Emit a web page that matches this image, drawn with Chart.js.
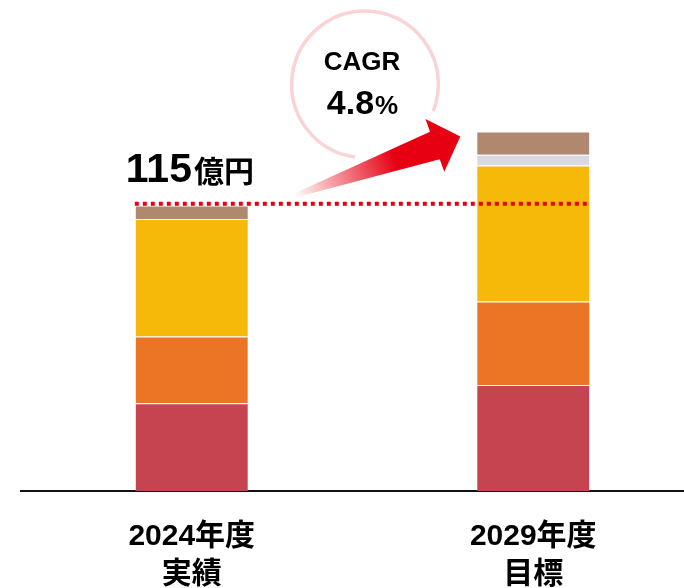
<!DOCTYPE html>
<html>
<head>
<meta charset="utf-8">
<script src="https://cdn.jsdelivr.net/npm/chart.js@4"></script>
<style>
  html, body { margin: 0; padding: 0; background: #fff; overflow: hidden; }
  #wrap { width: 704px; height: 588px; }
</style>
</head>
<body>
<div id="wrap"><canvas id="salesChart" width="704" height="588"></canvas></div>
<script>
// Categories (two-line tick labels)
const categories = [['2024年度', '実績'], ['2029年度', '目標']];

// Stacked segments, bottom to top (億円)
const redSeg = [35.4, 42.7];
const orangeSeg = [26.9, 33.7];
const yellowSeg = [47.4, 54.9];
const greySeg = [0, 4.3];
const brownSeg = [5.4, 9.4];

const segColors = ['#c5444f', '#ec7425', '#f7b909', '#d9d9e3', '#b0876f'];

// Annotation texts
const baseTotal = 115;
const baseNumber = '115';
const baseUnit = '億円';
const cagrTitle = 'CAGR';
const cagrValue = '4.8';
const cagrUnit = '%';

const latin = "'Liberation Sans', 'Noto Sans CJK JP', sans-serif";
const RED = '#e60012';

// Draws the dotted total line, the growth arrow and the CAGR bubble
const annotations = {
    id: 'annotations',
    afterDatasetsDraw(chart) {
        const ctx = chart.ctx;
        const y = chart.scales.y;
        const m = chart.getDatasetMeta(0);
        const b1 = m.data[0], b2 = m.data[1];
        const left1 = b1.x - b1.width / 2;
        const right1 = b1.x + b1.width / 2;
        const left2 = b2.x - b2.width / 2;
        const right2 = b2.x + b2.width / 2;
        const yBase = y.getPixelForValue(baseTotal);

        ctx.save();

        // dotted line at the 2024 total
        ctx.strokeStyle = RED;
        ctx.lineWidth = 4;
        ctx.setLineDash([4, 4]);
        ctx.beginPath();
        ctx.moveTo(left1, yBase - 2);
        ctx.lineTo(right2, yBase - 2);
        ctx.stroke();
        ctx.setLineDash([]);

        // "115億円"
        ctx.fillStyle = '#000';
        ctx.textBaseline = 'alphabetic';
        ctx.textAlign = 'left';
        ctx.font = 'bold 41px ' + latin;
        const nx = left1 - 9;
        const ny = yBase - 24;
        ctx.fillText(baseNumber, nx, ny);
        const nw = ctx.measureText(baseNumber).width;
        ctx.font = 'bold 30px ' + latin;
        ctx.fillText(baseUnit, nx + nw + 2, ny);

        // growth arrow with fading tail
        const tip = { x: left2 - 16, y: y.getPixelForValue(145) + 5 };
        const tail = { x: right1 + 45, y: yBase - 10 };
        const dx = tip.x - tail.x, dy = tip.y - tail.y;
        const len = Math.hypot(dx, dy);
        const ux = dx / len, uy = dy / len;
        const nxv = -uy, nyv = ux;
        const headLen = 27, headHalf = 28, shaftHalf = 14.5, tailHalf = 2;
        const bx = tip.x - ux * headLen, by = tip.y - uy * headLen;
        const grad = ctx.createLinearGradient(tail.x, tail.y, bx, by);
        grad.addColorStop(0, 'rgba(230,0,18,0)');
        grad.addColorStop(0.72, 'rgba(230,0,18,1)');
        grad.addColorStop(1, 'rgba(230,0,18,1)');
        ctx.fillStyle = grad;
        ctx.beginPath();
        ctx.moveTo(tail.x + nxv * tailHalf, tail.y + nyv * tailHalf);
        ctx.lineTo(bx + nxv * shaftHalf, by + nyv * shaftHalf);
        ctx.lineTo(bx + nxv * headHalf, by + nyv * headHalf);
        ctx.lineTo(tip.x, tip.y);
        ctx.lineTo(bx - nxv * headHalf, by - nyv * headHalf);
        ctx.lineTo(bx - nxv * shaftHalf, by - nyv * shaftHalf);
        ctx.lineTo(tail.x - nxv * tailHalf, tail.y - nyv * tailHalf);
        ctx.closePath();
        ctx.fill();

        // CAGR bubble
        const cx = 365, cy = 84.4, r = 73.3;
        ctx.strokeStyle = '#f9d3d6';
        ctx.lineWidth = 3.5;
        ctx.beginPath();
        ctx.arc(cx, cy, r, 97.8 * Math.PI / 180, 381.3 * Math.PI / 180);
        ctx.stroke();

        ctx.fillStyle = '#000';
        ctx.textAlign = 'center';
        ctx.font = 'bold 26px ' + latin;
        ctx.fillText(cagrTitle, cx - 3, 69.5);

        ctx.font = 'bold 34px ' + latin;
        const vw = ctx.measureText(cagrValue).width;
        ctx.font = 'bold 26px ' + latin;
        const uw = ctx.measureText(cagrUnit).width;
        const sx = cx - 3 - (vw + uw) / 2;
        ctx.textAlign = 'left';
        ctx.font = 'bold 34px ' + latin;
        ctx.fillText(cagrValue, sx, 113.5);
        ctx.font = 'bold 26px ' + latin;
        ctx.fillText(cagrUnit, sx + vw + 1, 113.5);

        ctx.restore();
    }
};

const segments = [redSeg, orangeSeg, yellowSeg, greySeg, brownSeg];

new Chart(document.getElementById('salesChart'), {
    type: 'bar',
    data: {
        labels: categories,
        datasets: segments.map((values, i) => ({
            data: values,
            backgroundColor: segColors[i],
            borderColor: 'rgba(255,255,255,0.2)',
            borderWidth: 1,
            categoryPercentage: 0.667,
            barPercentage: 0.5
        }))
    },
    options: {
        responsive: false,
        animation: false,
        layout: { padding: { left: 21, right: 0, top: 0, bottom: 0 } },
        plugins: {
            legend: { display: false },
            tooltip: { enabled: false }
        },
        scales: {
            x: {
                stacked: true,
                grid: { display: false, drawTicks: false },
                border: { display: true, color: '#111', width: 2 },
                ticks: {
                    color: '#000',
                    padding: 27,
                    font: { family: latin, size: 30, weight: 'bold', lineHeight: 1.25 }
                },
                afterFit(scale) { scale.height = 97; }
            },
            y: {
                stacked: true,
                display: false,
                min: 0,
                max: 198
            }
        }
    },
    plugins: [annotations]
});
</script>
</body>
</html>
